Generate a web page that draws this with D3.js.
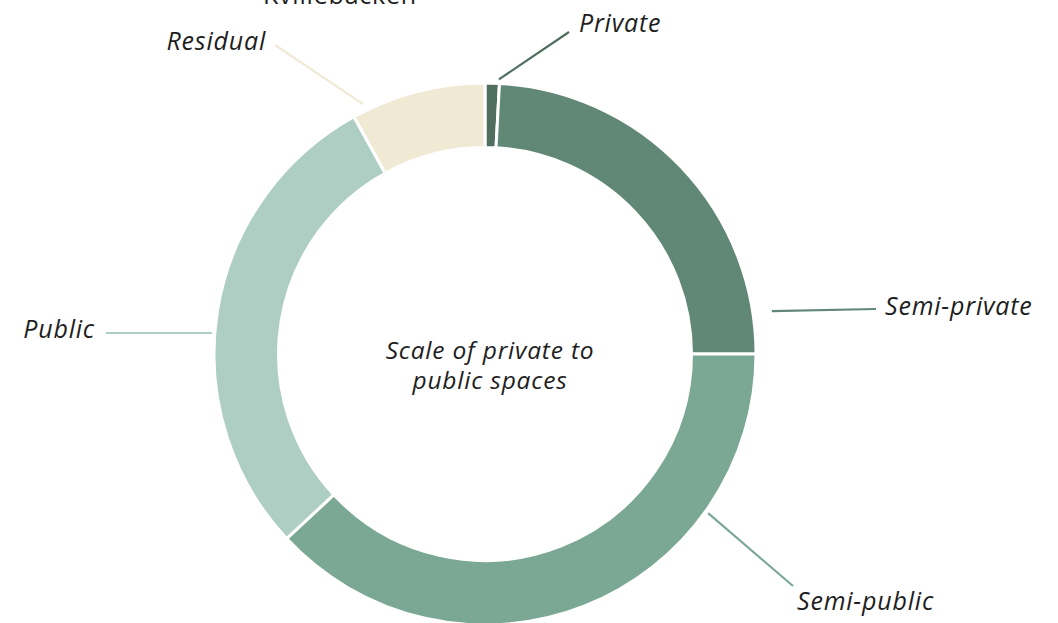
<!DOCTYPE html>
<html>
<head>
<meta charset="utf-8">
<script src="https://cdn.jsdelivr.net/npm/d3@7"></script>
<style>
  html, body { margin: 0; padding: 0; background: #ffffff; }
  svg { display: block; }
  text { font-family: "Open Sans", "Noto Sans", sans-serif; font-weight: 400; fill: #1e1e1e; letter-spacing: 0.8px; }
</style>
</head>
<body>
<svg id="chart" width="1058" height="623"></svg>
<script>
// Share of each space type (percent of total area)
const categories = ["Private", "Semi-private", "Semi-public", "Public", "Residual"];
const shares = [0.85, 24.15, 38.07, 28.9, 8.03];
const colors = ["#4f6e5e", "#618876", "#7aa894", "#aecec4", "#f0ead5"];
const title = "Kvillebäcken";
const centerLines = ["Scale of private to", "public spaces"];

// Leader-line placement for each label: angle (deg, clockwise from top) and
// radius where the line starts, plus the line's far end and text anchor.
const labelAngles = [2.9, 81.5, 125.5, 274.4, 334];
const labelRadii = [275, 290, 274, 274, 278];
const labelEnds = [[569, 32], [876, 309], [793, 586], [106, 333], [275, 45]];
const labelText = [[579, 32, "start"], [885, 315, "start"], [797, 610, "start"], [95, 338, "end"], [266, 50, "end"]];

const W = 1058, H = 623;
const cx = 485, cy = 354;
const outerR = 271, innerR = 206.5;

const svg = d3.select("#chart");
const g = svg.append("g").attr("transform", `translate(${cx},${cy})`);

const data = categories.map((c, i) => ({ name: c, value: shares[i], color: colors[i] }));

const pie = d3.pie().value(d => d.value).sort(null);
const arc = d3.arc().innerRadius(innerR).outerRadius(outerR);

g.selectAll("path.slice")
  .data(pie(data))
  .join("path")
  .attr("class", "slice")
  .attr("d", arc)
  .attr("fill", d => d.data.color)
  .attr("stroke", "#ffffff")
  .attr("stroke-width", 3)
  .attr("stroke-linejoin", "miter");

// Leader lines and labels
data.forEach((d, i) => {
  const a = labelAngles[i] * Math.PI / 180;
  const r = labelRadii[i];
  const x1 = cx + r * Math.sin(a), y1 = cy - r * Math.cos(a);
  svg.append("line")
    .attr("x1", x1).attr("y1", y1)
    .attr("x2", labelEnds[i][0]).attr("y2", labelEnds[i][1])
    .attr("stroke", d.color)
    .attr("stroke-width", 2.2);
  svg.append("text")
    .attr("x", labelText[i][0]).attr("y", labelText[i][1])
    .attr("text-anchor", labelText[i][2])
    .attr("font-size", 25)
    .attr("font-style", "italic")
    .text(d.name);
});

// Centre caption, one text element per line
svg.selectAll("text.caption")
  .data(centerLines)
  .join("text")
  .attr("class", "caption")
  .attr("x", 490)
  .attr("y", (d, i) => 359 + i * 30)
  .attr("text-anchor", "middle")
  .attr("font-size", 24.5)
  .attr("font-style", "italic")
  .text(d => d);

// Title
svg.append("text")
  .attr("x", 340).attr("y", 4)
  .attr("text-anchor", "middle")
  .attr("font-size", 25)
  .text(title);
</script>
</body>
</html>
